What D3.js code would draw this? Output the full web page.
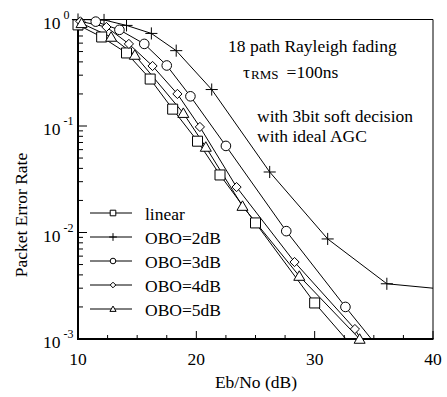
<html>
<head>
<script src="https://d3js.org/d3.v7.min.js"></script>
<style>
  body { margin: 0; background: #fff; }
  svg { display: block; }
  text { font-family: "Liberation Serif", "Times New Roman", Times, serif; fill: #000; }
  .curve { fill: none; stroke: #000; stroke-width: 1; }
  .mark { fill: #fff; stroke: #000; stroke-width: 1; }
</style>
</head>
<body>
<svg width="447" height="397"></svg>
<script>
// values (Eb/No in dB, packet error rate)
const ebLinear = [10, 12, 14.1, 16.1, 18, 20.1, 22, 25, 30, 35];
const perLinear = [0.89, 0.685, 0.485, 0.276, 0.144, 0.072, 0.0347, 0.0123, 0.00218, 0.0005];

const ebObo2 = [10, 12.2, 14.1, 16.2, 18.3, 21.3, 26.2, 31.1, 36.1, 40];
const perObo2 = [1.0, 0.99, 0.88, 0.74, 0.51, 0.22, 0.037, 0.0087, 0.0033, 0.0030];

const ebObo3 = [11.5, 13.5, 15.6, 17.5, 19.5, 22.5, 27.6, 32.6, 35.5];
const perObo3 = [0.955, 0.8, 0.59, 0.37, 0.19, 0.065, 0.0103, 0.002, 0.0008];

const ebObo4 = [10.2, 12.4, 14.3, 16.3, 18.4, 20.3, 23.4, 28.3, 33.4, 35];
const perObo4 = [0.96, 0.85, 0.59, 0.366, 0.2, 0.098, 0.0267, 0.00528, 0.00124, 0.0006];

const ebObo5 = [10.3, 12.8, 14.8, 18.9, 20.8, 23.9, 28.7, 33.8];
const perObo5 = [0.92, 0.685, 0.464, 0.132, 0.0635, 0.0177, 0.0039, 0.001];

const seriesNames = ['linear', 'OBO=2dB', 'OBO=3dB', 'OBO=4dB', 'OBO=5dB'];
const seriesSymbols = ['square', 'plus', 'circle', 'diamond', 'triangle'];

const xMajor = [10, 20, 30, 40];
const yMajor = [1, 0.1, 0.01, 0.001];
const yExp = ['0', '-1', '-2', '-3'];

const notes = ['18 path Rayleigh fading', 'with 3bit soft decision', 'with ideal AGC'];

const series = [
  [ebLinear, perLinear], [ebObo2, perObo2], [ebObo3, perObo3], [ebObo4, perObo4], [ebObo5, perObo5]
].map(([xs, ys], i) => ({
  name: seriesNames[i],
  symbol: seriesSymbols[i],
  points: xs.map((x, j) => ({ x: x, y: ys[j] }))
}));

const svg = d3.select('svg');
const plotLeft = 78, plotRight = 433, plotTop = 19.5, plotBottom = 339;
const fs = 17.5;

const xScale = d3.scaleLinear().domain([10, 40]).range([plotLeft, plotRight]);
const yScale = d3.scaleLog().domain([1e-3, 1]).range([plotBottom, plotTop]);

svg.append('clipPath').attr('id', 'plot')
  .append('rect')
  .attr('x', plotLeft).attr('y', plotTop)
  .attr('width', plotRight - plotLeft).attr('height', plotBottom - plotTop);

// frame, top and right thin
svg.append('line').attr('x1', plotLeft).attr('x2', plotRight).attr('y1', plotTop).attr('y2', plotTop)
  .attr('stroke', '#000').attr('stroke-width', 1);
svg.append('line').attr('x1', plotRight).attr('x2', plotRight).attr('y1', plotTop).attr('y2', plotBottom)
  .attr('stroke', '#000').attr('stroke-width', 1);

// bottom axis, ticks pointing in
const xMinor = d3.range(10, 40.01, 2.5);
svg.append('g').selectAll('line')
  .data(xMinor)
  .enter().append('line')
  .attr('x1', d => xScale(d)).attr('x2', d => xScale(d))
  .attr('y1', plotBottom)
  .attr('y2', d => xMajor.includes(d) ? plotBottom - 8 : plotBottom - 4)
  .attr('stroke', '#000').attr('stroke-width', 1);

svg.append('g').selectAll('text')
  .data(xMajor)
  .enter().append('text')
  .attr('x', d => xScale(d))
  .attr('y', 365)
  .attr('text-anchor', 'middle')
  .attr('font-size', fs)
  .text(d => d);

// left axis, log ticks pointing in
const yTicks = yScale.ticks();
svg.append('g').selectAll('line')
  .data(yTicks)
  .enter().append('line')
  .attr('x1', plotLeft)
  .attr('x2', d => yMajor.includes(d) ? plotLeft + 9 : plotLeft + 5)
  .attr('y1', d => yScale(d)).attr('y2', d => yScale(d))
  .attr('stroke', '#000').attr('stroke-width', 1);

const yLabels = svg.append('g').selectAll('text')
  .data(yMajor)
  .enter().append('text')
  .attr('x', 43)
  .attr('y', d => yScale(d) + 9)
  .attr('font-size', fs);
yLabels.append('tspan').text('10');
yLabels.append('tspan').attr('font-size', 12).attr('dx', 3).attr('dy', -10)
  .text((d, i) => yExp[i]);

svg.append('line').attr('x1', plotLeft).attr('x2', plotLeft).attr('y1', plotTop - 0.5).attr('y2', plotBottom + 1)
  .attr('stroke', '#000').attr('stroke-width', 2);
svg.append('line').attr('x1', plotLeft - 1).attr('x2', plotRight + 0.5).attr('y1', plotBottom).attr('y2', plotBottom)
  .attr('stroke', '#000').attr('stroke-width', 2);

// curves
const line = d3.line().x(d => xScale(d.x)).y(d => yScale(d.y));

svg.append('g').attr('clip-path', 'url(#plot)')
  .selectAll('path')
  .data(series)
  .enter().append('path')
  .attr('class', 'curve')
  .attr('d', d => line(d.points));

function symbolPath(sym, s) {
  if (sym === 'square') return `M${-s},${-s}H${s}V${s}H${-s}Z`;
  if (sym === 'circle') return `M${-s},0A${s},${s} 0 1,0 ${s},0A${s},${s} 0 1,0 ${-s},0Z`;
  if (sym === 'diamond') return `M0,${-s}L${s},0L0,${s}L${-s},0Z`;
  if (sym === 'triangle') return `M0,${-s * 1.05}L${s * 1.1},${s * 0.85}L${-s * 1.1},${s * 0.85}Z`;
  return `M${-s * 1.1},0H${s * 1.1}M0,${-s * 1.1}V${s * 1.1}`;
}
const markSize = { square: 5, circle: 4.8, diamond: 4.6, triangle: 5, plus: 5.5 };

series.forEach(s => {
  svg.append('g').selectAll('path')
    .data(s.points.filter(p => p.y >= 1e-3 && p.x < 40))
    .enter().append('path')
    .attr('class', 'mark')
    .attr('fill', s.symbol === 'plus' ? 'none' : '#fff')
    .attr('transform', p => `translate(${xScale(p.x)},${yScale(p.y)})`)
    .attr('d', symbolPath(s.symbol, markSize[s.symbol]));
});

// legend
const legend = svg.append('g').selectAll('g')
  .data(series)
  .enter().append('g')
  .attr('transform', (d, i) => `translate(90, ${213 + i * 24})`);
legend.append('line').attr('x1', 0).attr('x2', 42).attr('y1', 0).attr('y2', 0)
  .attr('stroke', '#000').attr('stroke-width', 1);
legend.append('path').attr('class', 'mark')
  .attr('transform', 'translate(23,0)')
  .attr('d', d => symbolPath(d.symbol, d.symbol === 'plus' ? 3.5 : 2.8));
legend.append('text').attr('x', 55).attr('y', 7).attr('font-size', fs)
  .text(d => d.name);

// notes
svg.append('text').attr('x', 228).attr('y', 52).attr('font-size', fs).text(notes[0]);
const tau = svg.append('text').attr('x', 243).attr('y', 78).attr('font-size', fs);
tau.append('tspan').text('τ');
tau.append('tspan').attr('font-size', 13).attr('dx', 1).attr('dy', 1).text('RMS');
tau.append('tspan').attr('dy', -1).attr('dx', 8).text('=100ns');
svg.append('text').attr('x', 257).attr('y', 122).attr('font-size', fs).text(notes[1]);
svg.append('text').attr('x', 257).attr('y', 142).attr('font-size', fs).text(notes[2]);

// axis titles
svg.append('text').attr('x', 256).attr('y', 388).attr('text-anchor', 'middle')
  .attr('font-size', fs).text('Eb/No (dB)');
svg.append('text').attr('transform', 'translate(27, 215) rotate(-90)')
  .attr('text-anchor', 'middle').attr('font-size', fs).text('Packet Error Rate');
</script>
</body>
</html>
